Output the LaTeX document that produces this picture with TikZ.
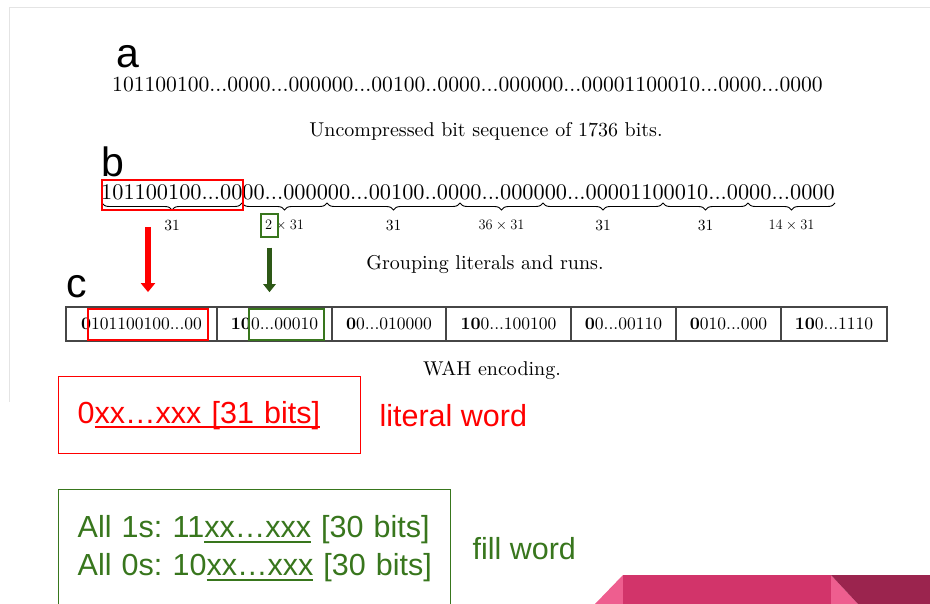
\documentclass[tikz,border=0pt]{standalone}
\usepackage{fontspec}
% keep the 10pt design of Latin Modern at every size
\setmainfont{lmroman10}[Extension=.otf, UprightFont=*-regular, BoldFont=*-bold, ItalicFont=*-italic, BoldItalicFont=*-bolditalic]
\newfontfamily\slidefont{Liberation Sans}
\usetikzlibrary{arrows.meta, positioning, decorations.pathreplacing}

\definecolor{litred}{RGB}{255,0,0}
\definecolor{fillgreen}{RGB}{56,118,29}
\definecolor{arrowgreen}{RGB}{45,88,22}
\definecolor{ribbonpink}{RGB}{210,52,106}
\definecolor{ribbonlight}{RGB}{238,94,143}
\definecolor{ribbondark}{RGB}{155,36,78}
\definecolor{framegray}{RGB}{228,228,228}
\definecolor{cellgray}{RGB}{70,70,70}

% underline drawn as a rule, thick enough for the slide text
\newcommand{\ulbits}[1]{\leavevmode\setbox0=\hbox{#1}\rlap{\rule[-5pt]{\wd0}{2pt}}\box0\relax}

\tikzstyle{panel} = [font=\slidefont\fontsize{41}{44}\selectfont, anchor=base west, inner sep=0pt]
\tikzstyle{bits} = [anchor=base west, inner sep=0pt]
\tikzstyle{caption} = [font=\fontsize{20}{24}\selectfont, anchor=base, inner sep=0pt]
\tikzstyle{cell} = [rectangle, draw=cellgray, line width=1.2pt, outer sep=0pt, inner sep=0pt, minimum height=34pt, font=\fontsize{17.5}{20}\selectfont]
\tikzstyle{brace} = [decorate, decoration={brace, mirror, amplitude=7pt}, line width=0.9pt]
\tikzstyle{count} = [below=17pt, inner sep=0pt, font=\fontsize{15.5}{18}\selectfont]
\tikzstyle{redbox} = [rectangle, draw=litred, line width=1.8pt, inner sep=0pt]
\tikzstyle{greenbox} = [rectangle, draw=fillgreen, line width=1.5pt, inner sep=0pt]
\tikzstyle{redarrow} = [color=litred, line width=6pt, -{Triangle[width=14pt,length=9pt]}]
\tikzstyle{greenarrow} = [color=arrowgreen, line width=5pt, -{Triangle[width=12pt,length=8pt]}]
\tikzstyle{wordbox} = [rectangle, line width=1.4pt, anchor=north west, inner xsep=19pt, inner ysep=0pt, align=left, font=\slidefont\fontsize{30.5}{38}\selectfont\frenchspacing]
\tikzstyle{wordlabel} = [inner sep=0pt, font=\slidefont\fontsize{30.5}{38}\selectfont]

\begin{document}
\begin{tikzpicture}[x=1pt, y=1pt]
    \useasboundingbox (0,0) rectangle (930,-604);

    % frame of the pasted figure
    \draw[framegray, line width=1pt] (9,-402) -- (9,-8) -- (930,-8);

    % a: raw bits
    \node[panel] (labelA) at (116,-68) {a};
    \node[bits, font=\fontsize{21.6}{24}\selectfont] (rawBits) at (112,-92) {101100100...0000...000000...00100..0000...000000...00001100010...0000...0000};
    \node[caption] (capA) at (486,-137) {Uncompressed bit sequence of 1736 bits.};

    % b: grouped bits
    \node[panel] (labelB) at (101,-177) {b};
    \node[bits, font=\fontsize{22.3}{25}\selectfont] (groupBits) at (101,-200) {101100100...0000...000000...00100..0000...000000...00001100010...0000...0000};

    \coordinate (g0) at (102,-203);
    \coordinate (g1) at (242,-203);
    \coordinate (g2) at (327,-203);
    \coordinate (g3) at (460,-203);
    \coordinate (g4) at (543,-203);
    \coordinate (g5) at (663,-203);
    \coordinate (g6) at (748,-203);
    \coordinate (g7) at (835,-203);

    \draw[brace] (g0) -- (g1) node[midway, count] {31};
    \draw[brace] (g1) -- (g2) node[midway, count] {$2\times31$};
    \draw[brace] (g2) -- (g3) node[midway, count] {31};
    \draw[brace] (g3) -- (g4) node[midway, count] {$36\times31$};
    \draw[brace] (g4) -- (g5) node[midway, count] {31};
    \draw[brace] (g5) -- (g6) node[midway, count] {31};
    \draw[brace] (g6) -- (g7) node[midway, count] {$14\times31$};

    \node[caption] (capB) at (485,-270) {Grouping literals and runs.};

    % c: WAH words
    \node[panel] (labelC) at (66,-298) {c};
    \node[cell, minimum width=151pt, anchor=west] (w1) at (66,-324) {\textbf{0}101100100...00};
    \node[cell, minimum width=115pt, right=0pt of w1] (w2) {\textbf{10}0...00010};
    \node[cell, minimum width=114pt, right=0pt of w2] (w3) {\textbf{0}0...010000};
    \node[cell, minimum width=125pt, right=0pt of w3] (w4) {\textbf{10}0...100100};
    \node[cell, minimum width=105pt, right=0pt of w4] (w5) {\textbf{0}0...00110};
    \node[cell, minimum width=105pt, right=0pt of w5] (w6) {\textbf{0}010...000};
    \node[cell, minimum width=106pt, right=0pt of w6] (w7) {\textbf{10}0...1110};

    \node[caption] (capC) at (492,-375) {WAH encoding.};

    % highlighted literal and fill
    \node[redbox, minimum width=141pt, minimum height=30pt] (litB) at (172.5,-195) {};
    \node[redbox, minimum width=120pt, minimum height=31pt] (litC) at (148,-324.5) {};
    \node[greenbox, minimum width=17pt, minimum height=23pt] (runB) at (269.5,-225.5) {};
    \node[greenbox, minimum width=75pt, minimum height=31pt] (fillC) at (286.5,-324.5) {};

    \draw[redarrow, shorten <=16pt, shorten >=16pt] (litB.south -| litC.north) -- (litC.north);
    \draw[greenarrow, shorten <=10pt, shorten >=16pt] (runB.south) -- (runB.south |- fillC.north);

    % word formats
    \node[wordbox, draw=litred, text=litred, text width=264pt, minimum height=77pt] (literal) at (58,-376) {0\ulbits{xx…xxx [31 bits]}};
    \node[wordlabel, text=litred, right=18pt of literal] (literalName) {literal word};

    \node[wordbox, draw=fillgreen, text=fillgreen, text width=354pt, minimum height=118pt] (fill) at (58,-489) {\mbox{All 1s: 11\ulbits{xx…xxx} [30 bits]}\\\mbox{All 0s: 10\ulbits{xx…xxx} [30 bits]}};
    \node[wordlabel, text=fillgreen, right=21pt of fill] (fillName) {fill word};

    % ribbon in the corner
    \fill[ribbonlight] (595,-604) -- (623,-575) -- (623,-604) -- cycle;
    \fill[ribbonpink] (623,-575) rectangle (831,-604);
    \fill[ribbonlight] (831,-575) -- (858,-604) -- (831,-604) -- cycle;
    \fill[ribbondark] (831,-575) -- (930,-575) -- (930,-604) -- (858,-604) -- cycle;

\end{tikzpicture}
\end{document}
